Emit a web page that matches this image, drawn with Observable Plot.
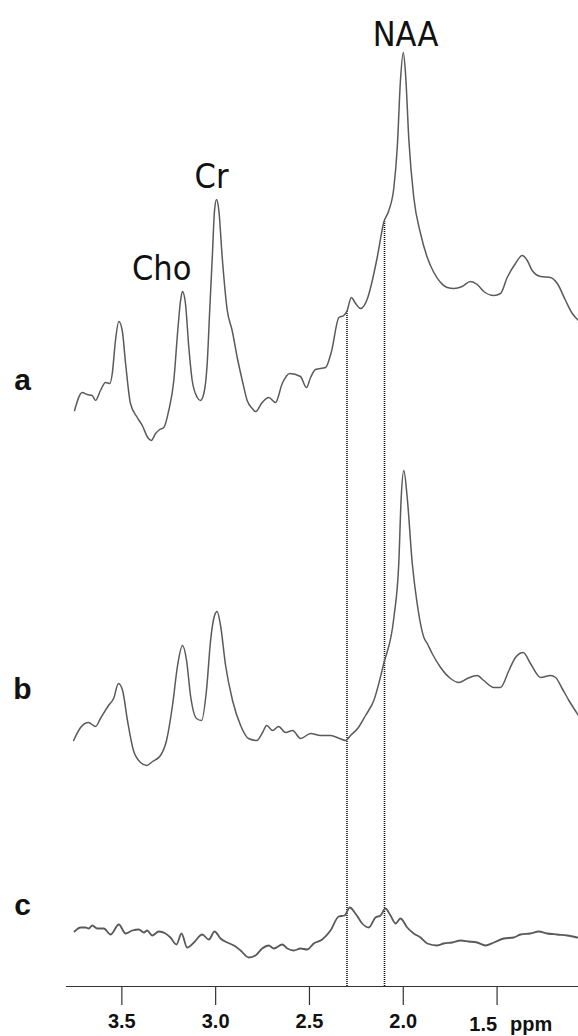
<!DOCTYPE html>
<html>
<head>
<meta charset="utf-8">
<script src="https://cdn.jsdelivr.net/npm/d3@7"></script>
<script src="https://cdn.jsdelivr.net/npm/@observablehq/plot@0.6"></script>
<style>
  html, body { margin: 0; padding: 0; background: #fff; }
  #chart svg { display: block; }
</style>
</head>
<body>
<div id="chart"></div>
<script>
// Chemical shift (ppm) and intensity (a.u.) for each spectrum
const aPpm = [3.752,3.711,3.685,3.658,3.640,3.614,3.587,3.564,3.551,3.534,3.516,3.498,3.480,3.454,3.418,3.391,3.362,3.343,3.320,3.298,3.276,3.250,3.223,3.202,3.187,3.177,3.161,3.143,3.125,3.098,3.081,3.063,3.045,3.031,3.018,3.006,2.995,2.983,2.965,2.938,2.912,2.885,2.858,2.832,2.805,2.787,2.752,2.717,2.681,2.645,2.605,2.548,2.516,2.494,2.468,2.414,2.384,2.343,2.317,2.299,2.277,2.254,2.228,2.189,2.165,2.139,2.104,2.077,2.050,2.032,2.015,2.000,1.988,1.970,1.944,1.908,1.872,1.837,1.801,1.766,1.730,1.686,1.642,1.606,1.571,1.517,1.482,1.446,1.402,1.366,1.339,1.313,1.268,1.215,1.179,1.135,1.099,1.066];
const aInt = [3.0,4.8,4.6,4.5,4.0,5.0,5.8,5.7,6.7,10.0,11.9,11.0,7.7,3.7,2.3,1.5,0.3,0.0,0.7,1.1,1.3,3.0,6.0,11.0,14.0,14.9,13.7,9.3,6.0,4.3,4.0,4.7,7.7,13.3,18.3,23.0,24.1,23.0,18.3,13.0,11.0,8.3,6.0,4.0,3.2,2.9,3.8,4.3,3.8,5.7,6.7,6.4,5.3,6.3,7.1,7.3,8.8,12.3,12.5,13.0,14.3,13.7,13.2,14.3,16.0,18.3,21.8,23.0,25.3,29.3,36.0,38.8,36.7,30.0,24.3,20.7,18.3,16.8,15.8,15.3,15.2,15.4,15.9,15.6,14.9,14.5,14.7,16.3,17.7,18.5,18.0,17.0,16.4,16.3,15.7,14.0,12.7,12.0];

const bPpm = [3.757,3.720,3.678,3.640,3.614,3.571,3.544,3.518,3.496,3.470,3.438,3.400,3.368,3.336,3.294,3.262,3.230,3.203,3.177,3.155,3.134,3.102,3.075,3.049,3.027,3.006,2.992,2.974,2.947,2.910,2.867,2.825,2.782,2.750,2.728,2.696,2.665,2.627,2.590,2.547,2.494,2.440,2.387,2.340,2.308,2.281,2.239,2.201,2.157,2.104,2.050,2.024,2.011,1.997,1.979,1.952,1.926,1.890,1.872,1.846,1.801,1.748,1.704,1.659,1.606,1.571,1.517,1.482,1.437,1.402,1.361,1.322,1.268,1.215,1.188,1.153,1.117,1.066];
const bInt = [2.5,3.8,4.3,3.9,4.7,6.0,6.7,8.2,7.5,4.5,1.5,0.3,0.0,0.4,1.0,2.5,6.0,10.0,12.0,10.5,7.0,4.7,4.5,7.5,12.5,15.0,15.4,14.0,10.0,6.5,4.0,2.7,2.5,3.3,4.0,3.5,3.9,3.3,3.5,2.7,3.2,3.0,3.0,2.7,2.5,3.0,3.8,5.0,6.5,10.2,14.8,20.2,26.8,29.5,26.8,20.2,16.2,12.8,12.2,11.2,9.8,8.7,8.3,8.7,9.0,8.5,7.8,7.8,9.5,10.8,11.3,10.2,8.8,9.0,8.8,7.7,6.5,5.0];

const cPpm = [3.752,3.720,3.693,3.676,3.658,3.631,3.596,3.560,3.516,3.480,3.445,3.409,3.383,3.365,3.338,3.303,3.267,3.241,3.209,3.182,3.152,3.116,3.072,3.036,3.006,2.974,2.938,2.903,2.867,2.823,2.788,2.752,2.717,2.690,2.645,2.618,2.583,2.548,2.512,2.477,2.432,2.388,2.344,2.313,2.285,2.255,2.219,2.184,2.148,2.121,2.095,2.068,2.041,2.015,1.979,1.944,1.908,1.872,1.819,1.784,1.739,1.695,1.651,1.606,1.562,1.517,1.464,1.411,1.375,1.322,1.278,1.233,1.180,1.126,1.073];
const cInt = [2.9,3.3,3.3,3.2,3.5,3.2,3.2,2.6,3.6,2.7,3.0,3.1,2.8,3.0,2.5,2.9,2.7,2.3,1.6,2.7,1.3,1.8,2.6,2.1,2.9,2.2,1.8,1.5,1.0,0.3,0.5,1.2,1.5,1.2,1.6,1.2,1.0,1.2,1.1,1.7,2.1,3.0,4.4,4.5,5.3,4.7,3.7,3.3,4.3,4.5,5.2,4.5,3.7,4.2,3.3,2.7,2.3,1.7,1.5,1.7,1.8,2.0,1.9,1.8,1.5,1.8,2.2,2.3,2.6,2.7,2.9,2.7,2.6,2.5,2.3];

// Vertical stacking offsets of the spectra (a.u.)
const traceNames = ["a", "b", "c"];
const traceOffsets = [54.6, 22.1, 2.6];
const traceLabelLevels = [6.0, 7.6, 5.5];

// Peak annotations on spectrum a
const peakNames = ["Cho", "Cr", "NAA"];
const peakPpm = [3.288, 3.022, 1.988];
const peakLabelLevels = [16.1, 25.3, 39.5];

// Dotted markers (ppm) and their top on spectrum a
const markerPpm = [2.3, 2.1];
const markerTop = [13.0, 22.0];

const tickValues = [3.5, 3.0, 2.5, 2.0, 1.5];
const xDomain = [3.795, 1.066];
const yDomain = [0, 98.6];

const toRows = (ppm, ints, off) => ppm.map((p, i) => ({ppm: p, y: off + ints[i]}));
const rowsA = toRows(aPpm, aInt, traceOffsets[0]);
const rowsB = toRows(bPpm, bInt, traceOffsets[1]);
const rowsC = toRows(cPpm, cInt, traceOffsets[2]);

const traceLabels = traceNames.map((n, i) => ({name: n, x: xDomain[0], y: traceOffsets[i] + traceLabelLevels[i]}));
const peaks = peakNames.map((n, i) => ({name: n, x: peakPpm[i], y: traceOffsets[0] + peakLabelLevels[i]}));
const markers = markerPpm.map((p, i) => ({x: p, y2: traceOffsets[0] + markerTop[i]}));

const narrow = "'DejaVu Sans Condensed', 'Liberation Sans Narrow', sans-serif";
const sans = "'Liberation Sans', Arial, Helvetica, sans-serif";

const chart = Plot.plot({
  width: 578,
  height: 1036,
  marginLeft: 66,
  marginRight: 0,
  marginTop: 0,
  marginBottom: 50,
  style: {fontFamily: sans, background: "#fff", color: "#111"},
  x: {domain: xDomain, axis: null},
  y: {domain: yDomain, axis: null},
  marks: [
    Plot.ruleX(markers, {x: "x", y1: 0, y2: "y2", stroke: "#111", strokeWidth: 1.6, strokeDasharray: "1,1"}),
    Plot.line(rowsA, {x: "ppm", y: "y", stroke: "#5a5a5a", strokeWidth: 1.5, curve: "monotone-x"}),
    Plot.line(rowsB, {x: "ppm", y: "y", stroke: "#5a5a5a", strokeWidth: 1.5, curve: "monotone-x"}),
    Plot.line(rowsC, {x: "ppm", y: "y", stroke: "#5a5a5a", strokeWidth: 1.8, curve: "monotone-x"}),
    Plot.ruleY([0], {stroke: "#333", strokeWidth: 1.2}),
    Plot.axisX({
      ticks: tickValues,
      tickSize: 19,
      tickPadding: 8,
      stroke: "#333",
      strokeWidth: 1.2,
      tickFormat: d => d === 1.5 ? "" : d.toFixed(1),
      fontSize: 20,
      fontWeight: "bold",
      fill: "#111",
      label: null
    }),
    Plot.text([{x: 1.5, t: "1.5"}], {x: "x", y: 0, text: "t", dy: 38, textAnchor: "end", fontSize: 20, fontWeight: "bold", fill: "#111"}),
    Plot.text([{x: 1.5, t: "ppm"}], {x: "x", y: 0, text: "t", dx: 13, dy: 38, textAnchor: "start", fontSize: 20, fontWeight: "bold", fill: "#111"}),
    Plot.text(traceLabels, {x: "x", y: "y", text: "name", dx: -44, textAnchor: "middle", fontSize: 30, fontWeight: "bold", fill: "#111"}),
    Plot.text(peaks, {x: "x", y: "y", text: "name", textAnchor: "middle", lineAnchor: "bottom", fontSize: 34, fontFamily: narrow, fill: "#111"})
  ]
});
document.getElementById("chart").appendChild(chart);
</script>
</body>
</html>
